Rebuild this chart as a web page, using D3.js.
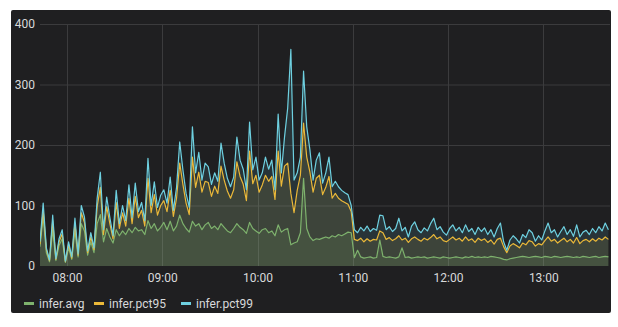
<!DOCTYPE html>
<html>
<head>
<meta charset="utf-8">
<script src="https://cdn.jsdelivr.net/npm/d3@7"></script>
<style>
  html, body { margin: 0; padding: 0; background: #ffffff; }
  svg { display: block; }
  text { font-family: Roboto, "Noto Sans", sans-serif; }
</style>
</head>
<body>
<svg id="chart" width="618" height="327"></svg>
<script>
// ---- data (2-minute samples starting 07:43) ----
const startTime = [7, 43];
const stepMinutes = 2;
const seriesNames = ["infer.avg", "infer.pct95", "infer.pct99"];
const seriesColors = ["#7eb26d", "#eab839", "#6ed0e0"];
const yTicks = [0, 100, 200, 300, 400];
const xTickLabels = ["08:00", "09:00", "10:00", "11:00", "12:00", "13:00"];

const pct99 = [
  40,104,30,10,84,12,45,60,8,
  40,15,79,20,100,81,25,55,30,
  112,155,60,114,80,50,125,70,100,75,
  134,80,137,90,105,75,178,100,139,97,
  117,126,104,147,92,130,205,159,120,97,
  230,154,188,142,170,164,135,154,140,203,
  170,145,131,147,213,175,160,126,238,159,
  180,142,154,180,160,175,126,251,154,213,
  261,358,142,154,180,322,230,192,142,175,
  187,137,154,180,131,140,131,125,121,118,100,
  60,55,64,58,66,57,62,59,84,83,60,
  65,57,62,79,58,64,48,66,73,60,
  55,63,58,70,79,60,65,56,51,62,
  68,58,64,55,68,57,62,52,64,57,
  63,52,60,48,62,71,40,26,43,50,
  45,38,52,47,60,55,41,50,43,58,
  71,55,60,48,57,65,52,60,49,68,
  48,56,59,52,62,55,65,58,71,60
];
const pct95 = [
  36,92,27,9,75,11,40,53,7,
  36,13,70,18,88,72,22,48,27,
  98,130,52,98,70,45,105,62,88,66,
  112,70,115,80,92,66,145,88,118,84,
  100,108,90,125,82,112,170,135,104,85,
  180,130,155,122,140,138,115,132,120,165,
  142,124,112,126,172,148,135,108,190,136,
  150,122,134,150,140,148,110,190,132,165,
  170,120,88,125,150,236,180,155,122,145,
  150,118,130,148,112,120,112,108,105,102,90,
  44,42,46,40,45,41,44,43,58,55,44,
  47,42,45,50,43,46,39,45,48,44,
  41,46,43,47,52,45,48,42,40,44,
  48,43,46,41,48,42,45,39,46,42,
  45,39,43,36,44,46,32,22,33,37,
  34,30,38,35,42,40,33,37,35,42,
  48,41,44,38,42,46,40,44,38,47,
  37,42,44,40,45,41,46,43,48,44
];
const avg = [
  32,82,22,7,60,9,34,45,6,
  30,11,58,15,70,58,18,40,22,
  70,85,40,62,48,38,60,50,58,52,
  62,55,64,58,60,52,75,62,70,58,
  64,72,60,74,58,66,84,70,62,56,
  74,66,70,60,68,72,62,66,60,70,
  64,58,55,62,70,64,60,54,72,62,
  58,54,60,62,55,58,50,68,56,60,
  62,35,38,40,55,145,62,48,42,45,
  44,46,48,46,50,48,52,50,53,56,55,
  14,26,15,13,14,15,13,14,43,16,14,
  15,14,13,15,30,14,15,13,14,15,
  14,15,13,14,15,14,13,15,14,13,
  14,15,14,13,15,14,16,14,15,14,
  15,14,16,15,14,13,11,10,12,13,
  14,15,16,15,14,15,16,15,14,16,
  15,14,16,15,14,15,16,15,14,15,
  14,16,15,14,15,16,14,15,16,15
];

// ---- build ----
const svg = d3.select("#chart");
const W = 618, H = 327;
const plot = { left: 40, right: 610, top: 24, bottom: 266 };

const t0 = new Date(2020, 0, 1, startTime[0], startTime[1]);
const timeAt = i => d3.timeMinute.offset(t0, i * stepMinutes);
const tEnd = new Date(2020, 0, 1, 13, 42);

const x = d3.scaleTime().domain([t0, tEnd]).range([plot.left, plot.right]);
const y = d3.scaleLinear().domain([0, 400]).range([plot.bottom, plot.top]);

// panel
svg.append("rect").attr("x", 11).attr("y", 10).attr("width", 600).attr("height", 303)
  .attr("rx", 2).attr("fill", "#1f1f21");

// grid
const tickDates = xTickLabels.map(s => { const [h, m] = s.split(":").map(Number); return new Date(2020, 0, 1, h, m); });
svg.append("g").selectAll("line").data(yTicks.filter(v => v > 0)).join("line")
  .attr("x1", plot.left).attr("x2", plot.right)
  .attr("y1", d => y(d) + 0.5).attr("y2", d => y(d) + 0.5)
  .attr("stroke", "#3b3b3d").attr("stroke-width", 1);
svg.append("g").selectAll("line").data(tickDates).join("line")
  .attr("x1", d => Math.round(x(d)) + 0.5).attr("x2", d => Math.round(x(d)) + 0.5)
  .attr("y1", plot.top).attr("y2", plot.bottom)
  .attr("stroke", "#3b3b3d").attr("stroke-width", 1);

// y axis labels via d3 axis
const yAxis = d3.axisLeft(y).tickValues(yTicks).tickSize(0).tickPadding(0).tickFormat(d3.format("d"));
const gy = svg.append("g").attr("transform", `translate(35,0)`).call(yAxis);
gy.select(".domain").remove();
gy.selectAll("text").attr("fill", "#d8d9da").attr("font-size", 12).attr("font-family", "Roboto, sans-serif");

// x axis labels
const xAxis = d3.axisBottom(x).tickValues(tickDates).tickSize(0).tickPadding(0).tickFormat(d3.timeFormat("%H:%M"));
const gx = svg.append("g").attr("transform", `translate(0,${plot.bottom + 7})`).call(xAxis);
gx.select(".domain").remove();
gx.selectAll("text").attr("fill", "#d8d9da").attr("font-size", 12).attr("font-family", "Roboto, sans-serif");

// series
const seriesData = [avg, pct95, pct99];
const clip = svg.append("clipPath").attr("id", "clip").append("rect")
  .attr("x", plot.left).attr("y", plot.top - 5).attr("width", plot.right - plot.left).attr("height", plot.bottom - plot.top + 5);

const area = d3.area().x((d, i) => x(timeAt(i))).y0(plot.bottom).y1(d => y(d));
const line = d3.line().x((d, i) => x(timeAt(i))).y(d => y(d));

const gS = svg.append("g").attr("clip-path", "url(#clip)");
seriesData.forEach((vals, k) => {
  gS.append("path").datum(vals).attr("d", area)
    .attr("fill", seriesColors[k]).attr("fill-opacity", 0.12);
});
seriesData.forEach((vals, k) => {
  gS.append("path").datum(vals).attr("d", line)
    .attr("fill", "none").attr("stroke", seriesColors[k]).attr("stroke-width", 1.2)
    .attr("stroke-linejoin", "round");
});

// legend
const legendX = [24, 94, 181];
const lg = svg.append("g");
seriesNames.forEach((name, k) => {
  lg.append("line").attr("x1", legendX[k]).attr("x2", legendX[k] + 10)
    .attr("y1", 303.5).attr("y2", 303.5)
    .attr("stroke", seriesColors[k]).attr("stroke-width", 3);
  lg.append("text").attr("x", legendX[k] + 15).attr("y", 307.5)
    .attr("fill", "#d8d9da").attr("font-size", 12).text(name);
});
</script>
</body>
</html>
